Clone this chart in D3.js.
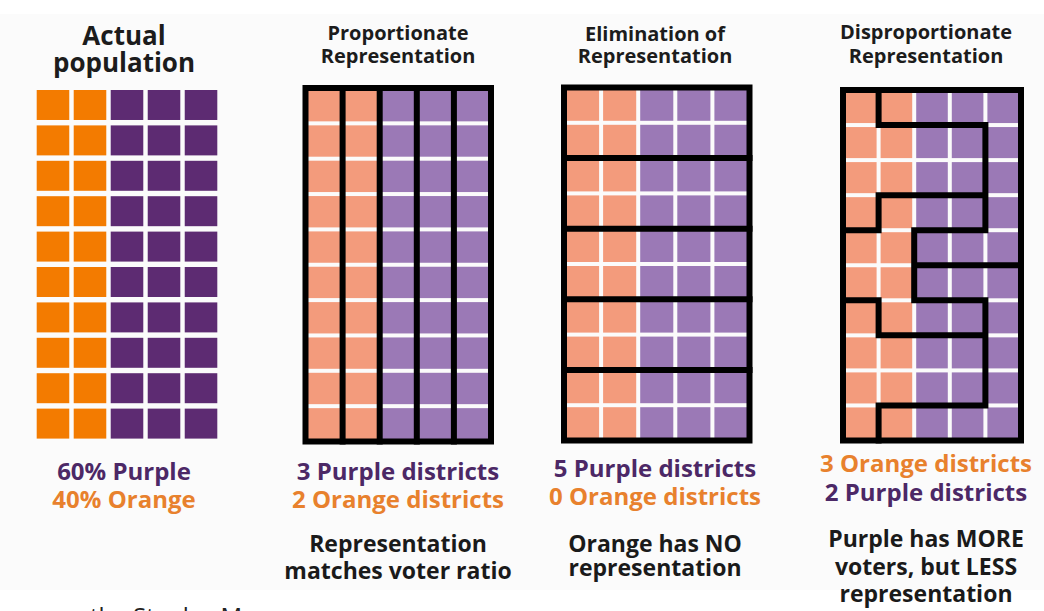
<!DOCTYPE html>
<html>
<head>
<meta charset="utf-8">
<script src="https://cdn.jsdelivr.net/npm/d3@7"></script>
<style>
html, body { margin: 0; padding: 0; background: #fff; overflow: hidden; }
text { font-family: "Open Sans", "Noto Sans", sans-serif; font-weight: 700; }
</style>
</head>
<body>
<div id="chart"></div>
<script>
// grid of voters: 5 columns x 10 rows, party by column
var nCols = 5, nRows = 10;
var columnParty = ["orange", "orange", "purple", "purple", "purple"];

// district id of each voter cell, row by row
var proportionate = [
    [0, 1, 2, 3, 4], [0, 1, 2, 3, 4], [0, 1, 2, 3, 4], [0, 1, 2, 3, 4], [0, 1, 2, 3, 4],
    [0, 1, 2, 3, 4], [0, 1, 2, 3, 4], [0, 1, 2, 3, 4], [0, 1, 2, 3, 4], [0, 1, 2, 3, 4]
];
var elimination = [
    [0, 0, 0, 0, 0], [0, 0, 0, 0, 0], [1, 1, 1, 1, 1], [1, 1, 1, 1, 1], [2, 2, 2, 2, 2],
    [2, 2, 2, 2, 2], [3, 3, 3, 3, 3], [3, 3, 3, 3, 3], [4, 4, 4, 4, 4], [4, 4, 4, 4, 4]
];
var disproportionate = [
    [0, 1, 1, 1, 1],
    [0, 0, 0, 0, 1],
    [0, 0, 0, 0, 1],
    [0, 2, 2, 2, 1],
    [2, 2, 1, 1, 1],
    [2, 2, 3, 3, 3],
    [4, 2, 2, 2, 3],
    [4, 4, 4, 4, 3],
    [4, 4, 4, 4, 3],
    [4, 3, 3, 3, 3]
];

var titles = [
    ["Actual", "population"],
    ["Proportionate", "Representation"],
    ["Elimination of", "Representation"],
    ["Disproportionate", "Representation"]
];
var results = [
    ["60% Purple", "40% Orange"],
    ["3 Purple districts", "2 Orange districts"],
    ["5 Purple districts", "0 Orange districts"],
    ["3 Orange districts", "2 Purple districts"]
];
var resultParty = [
    ["purple", "orange"],
    ["purple", "orange"],
    ["purple", "orange"],
    ["orange", "purple"]
];
var notes = [
    [],
    ["Representation", "matches voter ratio"],
    ["Orange has NO", "representation"],
    ["Purple has MORE", "voters, but LESS", "representation"]
];
var sourceNote = "the Stanley M";

var width = 1044, height = 611;

var darkFill = {orange: "#f37b00", purple: "#5d2b72"};
var lightFill = {orange: "#f39b7c", purple: "#9b79b6"};
var textFill = {orange: "#e8812d", purple: "#4c2866"};

var panels = [
    {cx: 124, box: [36.7, 217.3, 90, 438.6], districts: null,
     titleY: [45, 72], titleSize: 26, resY: [480, 508], noteY: []},
    {cx: 398, box: [305.5, 491, 88, 441.5], districts: proportionate,
     titleY: [40, 63], titleSize: 20, resY: [480, 508], noteY: [552, 579]},
    {cx: 655, box: [564, 749.5, 87.5, 440.5], districts: elimination,
     titleY: [41, 63], titleSize: 20, resY: [477, 505], noteY: [552, 576]},
    {cx: 926, box: [843, 1021, 90, 440.5], districts: disproportionate,
     titleY: [39, 63], titleSize: 20, resY: [472, 501], noteY: [547, 575, 602]}
];

var svg = d3.select("#chart").append("svg")
    .attr("width", width)
    .attr("height", height);

svg.append("rect")
    .attr("x", 0).attr("y", 14)
    .attr("width", width).attr("height", 576)
    .attr("fill", "#fbfbfb");

var cells = [];
for (var r = 0; r < nRows; ++r)
{
    for (var c = 0; c < nCols; ++c)
    {
        cells.push({row: r, col: c, party: columnParty[c]});
    }
}

function borderPath(d, x, y)
{
    var p = d3.path();
    for (var r = 0; r < nRows; ++r)
    {
        for (var c = 0; c < nCols; ++c)
        {
            if (c < nCols - 1 && d[r][c] !== d[r][c + 1]) {
                p.moveTo(x(c + 1), y(r));
                p.lineTo(x(c + 1), y(r + 1));
            }
            if (r < nRows - 1 && d[r][c] !== d[r + 1][c]) {
                p.moveTo(x(c), y(r + 1));
                p.lineTo(x(c + 1), y(r + 1));
            }
        }
    }
    return p.toString();
}

panels.forEach(function(panel, i) {
    var g = svg.append("g");
    var b = panel.box;

    if (!panel.districts) {
        // actual population: separate squares
        var xb = d3.scaleBand().domain(d3.range(nCols)).range([b[0], b[1]]).paddingInner(0.12);
        var yb = d3.scaleBand().domain(d3.range(nRows)).range([b[2], b[3]]).paddingInner(0.153);
        g.selectAll(".cell")
            .data(cells)
            .enter()
            .append("rect")
            .attr("class", "cell")
            .attr("x", function(d) { return xb(d.col); })
            .attr("y", function(d) { return yb(d.row); })
            .attr("width", xb.bandwidth())
            .attr("height", yb.bandwidth())
            .attr("fill", function(d) { return darkFill[d.party]; });
    } else {
        var x = d3.scaleLinear().domain([0, nCols]).range([b[0], b[1]]);
        var y = d3.scaleLinear().domain([0, nRows]).range([b[2], b[3]]);
        var gap = 2;
        g.selectAll(".cell")
            .data(cells)
            .enter()
            .append("rect")
            .attr("class", "cell")
            .attr("x", function(d) { return x(d.col) + gap; })
            .attr("y", function(d) { return y(d.row) + gap; })
            .attr("width", function(d) { return x(d.col + 1) - x(d.col) - 2 * gap; })
            .attr("height", function(d) { return y(d.row + 1) - y(d.row) - 2 * gap; })
            .attr("fill", function(d) { return lightFill[d.party]; });

        g.append("path")
            .attr("d", borderPath(panel.districts, x, y))
            .attr("fill", "none")
            .attr("stroke", "#000")
            .attr("stroke-width", 6)
            .attr("stroke-linecap", "square");

        g.append("rect")
            .attr("x", b[0]).attr("y", b[2])
            .attr("width", b[1] - b[0]).attr("height", b[3] - b[2])
            .attr("fill", "none")
            .attr("stroke", "#000")
            .attr("stroke-width", 6);
    }

    titles[i].forEach(function(t, k) {
        g.append("text")
            .attr("x", panel.cx)
            .attr("y", panel.titleY[k])
            .attr("text-anchor", "middle")
            .style("font-size", panel.titleSize + "px")
            .attr("fill", "#1c1c1c")
            .text(t);
    });

    results[i].forEach(function(t, k) {
        g.append("text")
            .attr("x", panel.cx)
            .attr("y", panel.resY[k])
            .attr("text-anchor", "middle")
            .style("font-size", "24px")
            .attr("fill", textFill[resultParty[i][k]])
            .text(t);
    });

    notes[i].forEach(function(t, k) {
        g.append("text")
            .attr("x", panel.cx)
            .attr("y", panel.noteY[k])
            .attr("text-anchor", "middle")
            .style("font-size", "23px")
            .attr("fill", "#1a1a1a")
            .text(t);
    });
});

svg.append("text")
    .attr("x", 90)
    .attr("y", 625)
    .style("font-size", "24px")
    .style("font-weight", 400)
    .attr("fill", "#222")
    .text(sourceNote);
</script>
</body>
</html>
